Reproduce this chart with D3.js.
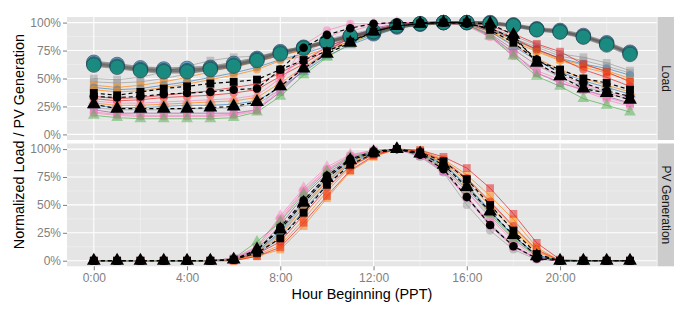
<!DOCTYPE html>
<html><head><meta charset="utf-8">
<script src="https://cdn.jsdelivr.net/npm/d3@7"></script>
<style>body{margin:0;background:#fff} text{font-family:"Liberation Sans",Arial,Helvetica,sans-serif}</style>
</head><body><svg id="c" width="692" height="311"></svg>
<script>
// ---------- DATA ----------
const hours = [0,1,2,3,4,5,6,7,8,9,10,11,12,13,14,15,16,17,18,19,20,21,22,23];
const xTicks = [0,4,8,12,16,20];
const xTickLabels = ["0:00","4:00","8:00","12:00","16:00","20:00"];
const yTicks = [0,0.25,0.5,0.75,1];
const yTickLabels = ["0%","25%","50%","75%","100%"];
const facets = ["Load","PV Generation"];

// Load panel, coloured series
const loadGrayS1  = [.50,.49,.51,.56,.61,.66,.69,.70,.73,.78,.85,.90,.94,.97,.99,1.0,.99,.95,.88,.80,.72,.69,.64,.57];
const loadGrayS2  = [.47,.46,.47,.50,.54,.58,.62,.66,.70,.76,.83,.89,.93,.97,.99,1.0,.99,.94,.86,.78,.70,.66,.61,.55];
const loadOrangeS = [.44,.42,.44,.47,.51,.56,.61,.65,.71,.75,.82,.87,.92,.96,.99,1.0,.99,.93,.85,.75,.67,.62,.57,.50];
const loadBlueC   = [.42,.40,.41,.44,.47,.51,.55,.60,.67,.72,.79,.85,.90,.95,.98,1.0,.99,.94,.85,.76,.68,.63,.59,.53];
const loadOrangeC = [.40,.38,.39,.42,.45,.49,.53,.58,.66,.70,.77,.83,.89,.95,.98,.99,.98,.92,.83,.74,.66,.60,.55,.48];
const loadRedS    = [.34,.32,.33,.35,.37,.39,.42,.45,.55,.66,.78,.87,.94,.98,1.0,1.0,1.0,.97,.90,.81,.74,.63,.56,.47];
const loadRedC    = [.32,.30,.31,.33,.34,.35,.37,.40,.52,.63,.76,.86,.93,.98,1.0,1.0,.99,.95,.86,.76,.68,.58,.51,.43];
const loadPinkT   = [.30,.28,.28,.29,.30,.31,.32,.35,.50,.70,.86,.96,.99,1.0,1.0,1.0,.98,.90,.76,.62,.53,.45,.38,.33];
const loadOrangeT = [.28,.26,.26,.27,.28,.29,.30,.33,.46,.60,.74,.84,.92,.97,.99,1.0,.99,.92,.80,.68,.58,.50,.44,.38];
const loadBlueT   = [.26,.24,.24,.25,.26,.26,.27,.30,.42,.56,.70,.80,.88,.95,.98,1.0,.99,.92,.79,.66,.56,.48,.42,.36];
const loadGrayC   = [.24,.22,.22,.22,.23,.23,.24,.27,.40,.57,.72,.83,.91,.96,.99,1.0,.98,.90,.76,.62,.51,.43,.37,.31];
const loadPurpleS = [.22,.19,.19,.19,.19,.19,.19,.22,.38,.58,.74,.87,.95,.99,1.0,1.0,.98,.89,.73,.55,.46,.40,.34,.28];
const loadPinkS   = [.20,.18,.17,.17,.17,.17,.18,.22,.40,.62,.80,.92,.98,1.0,1.0,1.0,.97,.88,.72,.57,.49,.40,.33,.27];
const loadPinkC   = [.19,.17,.16,.16,.16,.16,.17,.21,.45,.80,.93,.99,.99,1.0,1.0,1.0,.97,.87,.70,.55,.47,.39,.31,.25];
const loadGreenT  = [.17,.15,.14,.14,.14,.14,.15,.20,.34,.53,.69,.81,.90,.96,.99,1.0,.98,.88,.70,.52,.43,.32,.26,.20];
// Load panel, large-marker cluster
const loadTealA = [.63,.61,.58,.57,.57,.59,.62,.67,.73,.78,.83,.88,.91,.97,.99,1.0,1.0,.995,.975,.94,.92,.875,.81,.725];
const loadTealB = [.645,.625,.595,.585,.59,.60,.635,.68,.74,.775,.82,.87,.90,.96,.985,1.0,1.0,1.0,.98,.945,.93,.885,.82,.735];
const loadTealC = [.62,.60,.57,.56,.56,.58,.61,.66,.72,.77,.83,.88,.92,.97,.99,1.0,1.0,.99,.97,.935,.915,.87,.80,.715];
// Load panel, black (dashed) series
const loadBlkSq   = [.37,.35,.38,.41,.43,.455,.47,.49,.58,.665,.745,.83,.92,.97,.99,1.0,1.0,.935,.82,.66,.58,.50,.46,.40];
const loadBlkCirc = [.34,.33,.34,.36,.37,.38,.40,.41,.58,.775,.89,.95,.99,1.0,1.0,1.0,.99,.95,.86,.67,.55,.46,.39,.34];
const loadBlkTri  = [.27,.23,.23,.23,.23,.24,.25,.29,.43,.59,.72,.82,.92,.97,.99,1.0,1.0,.99,.89,.64,.52,.41,.37,.31];

// PV panel, coloured series
const pvGrayS1  = [0,0,0,0,0,0,.01,.08,.25,.50,.72,.89,.97,1.0,.95,.82,.62,.40,.19,.04,0,0,0,0];
const pvGrayS2  = [0,0,0,0,0,0,.01,.07,.24,.48,.71,.88,.97,1.0,.96,.84,.65,.43,.22,.05,0,0,0,0];
const pvOrangeS = [0,0,0,0,0,0,0,.04,.10,.31,.56,.80,.93,1.0,.99,.91,.77,.58,.37,.12,0,0,0,0];
const pvBlueC   = [0,0,0,0,0,0,.01,.06,.20,.45,.69,.87,.96,1.0,.97,.87,.68,.45,.22,.05,0,0,0,0];
const pvOrangeC = [0,0,0,0,0,0,0,.05,.14,.37,.62,.84,.95,1.0,.98,.89,.73,.52,.30,.09,0,0,0,0];
const pvRedS    = [0,0,0,0,0,0,0,.04,.12,.34,.58,.81,.94,1.0,.99,.93,.83,.65,.42,.16,.01,0,0,0];
const pvRedC    = [0,0,0,0,0,0,.01,.06,.17,.41,.65,.85,.95,1.0,.98,.90,.74,.53,.31,.10,0,0,0,0];
const pvPinkT   = [0,0,0,0,0,0,.02,.12,.40,.65,.84,.95,.99,1.0,.95,.83,.62,.38,.17,.03,0,0,0,0];
const pvOrangeT = [0,0,0,0,0,0,.01,.07,.22,.48,.71,.88,.97,1.0,.97,.88,.71,.49,.27,.08,0,0,0,0];
const pvBlueT   = [0,0,0,0,0,0,.01,.08,.26,.52,.74,.90,.97,1.0,.96,.86,.67,.44,.22,.05,0,0,0,0];
const pvGrayC   = [0,0,0,0,0,0,.01,.09,.28,.54,.76,.91,.98,1.0,.93,.79,.50,.27,.10,.01,0,0,0,0];
const pvPurpleS = [0,0,0,0,0,0,.02,.10,.32,.58,.78,.92,.98,1.0,.94,.80,.57,.32,.13,.02,0,0,0,0];
const pvPinkS   = [0,0,0,0,0,0,.02,.11,.36,.62,.81,.94,.99,1.0,.94,.81,.58,.33,.14,.02,0,0,0,0];
const pvPinkC   = [0,0,0,0,0,0,.02,.13,.38,.63,.82,.94,.99,1.0,.94,.80,.56,.31,.12,.02,0,0,0,0];
const pvGreenT  = [0,0,0,0,0,0,.02,.17,.35,.60,.80,.93,.98,1.0,.95,.84,.64,.42,.20,.04,0,0,0,0];
// PV panel, black (dashed) series
const pvBlkSq   = [0,0,0,0,0,0,.01,.07,.20,.43,.68,.86,.96,1.0,.97,.89,.73,.50,.27,.06,0,0,0,0];
const pvBlkCirc = [0,0,0,0,0,0,.01,.09,.30,.54,.76,.91,.98,1.0,.95,.82,.57,.32,.13,.02,0,0,0,0];
const pvBlkTri  = [0,0,0,0,0,0,.01,.10,.28,.52,.74,.90,.97,1.0,.96,.86,.66,.44,.23,.04,0,0,0,0];

// ---------- STYLE TABLES ----------
const C = {red:"#E41A1C",blue:"#377EB8",green:"#4DAF4A",purple:"#984EA3",orange:"#FF7F00",pink:"#F781BF",gray:"#999999"};
const colourTable = (arr) => [
  [arr[0],C.gray,"square"],[arr[1],C.gray,"square"],[arr[2],C.orange,"square"],[arr[3],C.blue,"circle"],
  [arr[4],C.orange,"circle"],[arr[5],C.red,"square"],[arr[6],C.red,"circle"],[arr[7],C.pink,"triangle"],
  [arr[8],C.orange,"triangle"],[arr[9],C.blue,"triangle"],[arr[10],C.gray,"circle"],[arr[11],C.purple,"square"],
  [arr[12],C.pink,"square"],[arr[13],C.pink,"circle"],[arr[14],C.green,"triangle"]];
const panels = [
  {label:facets[0],
   colour: colourTable([loadGrayS1,loadGrayS2,loadOrangeS,loadBlueC,loadOrangeC,loadRedS,loadRedC,loadPinkT,loadOrangeT,loadBlueT,loadGrayC,loadPurpleS,loadPinkS,loadPinkC,loadGreenT]),
   big: [[loadTealB,"#4a93c8"],[loadTealA,"#1f8f85"],[loadTealC,"#178a7c"]],
   black: [[loadBlkSq,"square"],[loadBlkCirc,"circle"],[loadBlkTri,"triangle"]]},
  {label:facets[1],
   colour: colourTable([pvGrayS1,pvGrayS2,pvOrangeS,pvBlueC,pvOrangeC,pvRedS,pvRedC,pvPinkT,pvOrangeT,pvBlueT,pvGrayC,pvPurpleS,pvPinkS,pvPinkC,pvGreenT]),
   big: [],
   black: [[pvBlkSq,"square"],[pvBlkCirc,"circle"],[pvBlkTri,"triangle"]]}
];

// ---------- DRAW ----------
const svg = d3.select("#c");
const x = d3.scaleLinear().domain([-1.15, 24.15]).range([67, 656.8]);
const panelBoxes = [[17,140],[143.5,266.3]];
const symType = {square:d3.symbolSquare, circle:d3.symbolCircle, triangle:d3.symbolTriangle};
const symSize = {square:60, circle:52, triangle:60};
const blkSize = {square:62, circle:58, triangle:82};

panels.forEach((p,i)=>{
  const [top,bot] = panelBoxes[i];
  const y = d3.scaleLinear().domain([-0.05,1.05]).range([bot,top]);
  const g = svg.append("g");
  g.append("rect").attr("x",x.range()[0]).attr("y",top).attr("width",x.range()[1]-x.range()[0]).attr("height",bot-top).attr("fill","#E5E5E5");
  const xMinor = [2,6,10,14,18,22], yMinor=[0.125,0.375,0.625,0.875];
  g.selectAll(".xm").data(xMinor).join("line").attr("x1",d=>x(d)).attr("x2",d=>x(d)).attr("y1",top).attr("y2",bot).attr("stroke","#F2F2F2").attr("stroke-width",0.6);
  g.selectAll(".ym").data(yMinor).join("line").attr("x1",x.range()[0]).attr("x2",x.range()[1]).attr("y1",d=>y(d)).attr("y2",d=>y(d)).attr("stroke","#F2F2F2").attr("stroke-width",0.6);
  g.selectAll(".xM").data(xTicks).join("line").attr("x1",d=>x(d)).attr("x2",d=>x(d)).attr("y1",top).attr("y2",bot).attr("stroke","#fff").attr("stroke-width",1.1);
  g.selectAll(".yM").data(yTicks).join("line").attr("x1",x.range()[0]).attr("x2",x.range()[1]).attr("y1",d=>y(d)).attr("y2",d=>y(d)).attr("stroke","#fff").attr("stroke-width",1.1);

  const line = d3.line().x((d,k)=>x(hours[k])).y(d=>y(d));
  p.colour.forEach(([vals,col])=>{
    g.append("path").attr("d",line(vals)).attr("fill","none").attr("stroke",col).attr("stroke-opacity",0.75).attr("stroke-width",0.9);
  });
  p.colour.forEach(([vals,col,shp])=>{
    g.selectAll(null).data(vals).join("path")
      .attr("transform",(d,k)=>`translate(${x(hours[k])},${y(d)})`)
      .attr("d",d3.symbol().type(symType[shp]).size(symSize[shp]))
      .attr("fill",col).attr("fill-opacity",0.5);
  });
  p.big.forEach(([vals])=>{
    g.append("path").attr("d",line(vals)).attr("fill","none").attr("stroke","#555").attr("stroke-opacity",0.55).attr("stroke-width",3.2);
  });
  p.big.forEach(([vals,col])=>{
    g.selectAll(null).data(vals).join("circle")
      .attr("cx",(d,k)=>x(hours[k])).attr("cy",d=>y(d)).attr("r",7.3)
      .attr("fill",col).attr("fill-opacity",0.8).attr("stroke","#1c3646").attr("stroke-opacity",0.7).attr("stroke-width",0.8);
  });
  p.black.forEach(([vals])=>{
    g.append("path").attr("d",line(vals)).attr("fill","none").attr("stroke","#000").attr("stroke-width",1.15).attr("stroke-dasharray","4,3");
  });
  p.black.forEach(([vals,shp])=>{
    g.selectAll(null).data(vals).join("path")
      .attr("transform",(d,k)=>`translate(${x(hours[k])},${y(d)})`)
      .attr("d",d3.symbol().type(symType[shp]).size(blkSize[shp]))
      .attr("fill","#000");
  });

  const ax = svg.append("g").attr("transform",`translate(${x.range()[0]},0)`)
    .call(d3.axisLeft(y).tickValues(yTicks).tickFormat((d,k)=>yTickLabels[k]).tickSize(4).tickPadding(2));
  ax.select(".domain").remove();
  ax.selectAll("line").attr("stroke","#7F7F7F");
  ax.selectAll("text").attr("fill","#7F7F7F").style("font-size","12px");

  svg.append("rect").attr("x",657.5).attr("y",top).attr("width",16.5).attr("height",bot-top).attr("fill","#CCCCCC");
  svg.append("text").attr("transform",`translate(${665.7},${(top+bot)/2}) rotate(90)`)
    .attr("text-anchor","middle").attr("dominant-baseline","central").style("font-size","12px").attr("fill","#1a1a1a").text(p.label);
});

const axX = svg.append("g").attr("transform",`translate(0,${panelBoxes[1][1]})`)
  .call(d3.axisBottom(x).tickValues(xTicks).tickFormat((d,k)=>xTickLabels[k]).tickSize(4).tickPadding(3));
axX.select(".domain").remove();
axX.selectAll("line").attr("stroke","#7F7F7F");
axX.selectAll("text").attr("fill","#7F7F7F").style("font-size","12px");

svg.append("text").attr("x",(67+656.8)/2).attr("y",298.5).attr("text-anchor","middle").style("font-size","14.4px").text("Hour Beginning (PPT)");
svg.append("text").attr("transform",`translate(24,${(17+266.3)/2}) rotate(-90)`).attr("text-anchor","middle").style("font-size","14.4px").text("Normalized Load / PV Generation");
</script></body></html>
